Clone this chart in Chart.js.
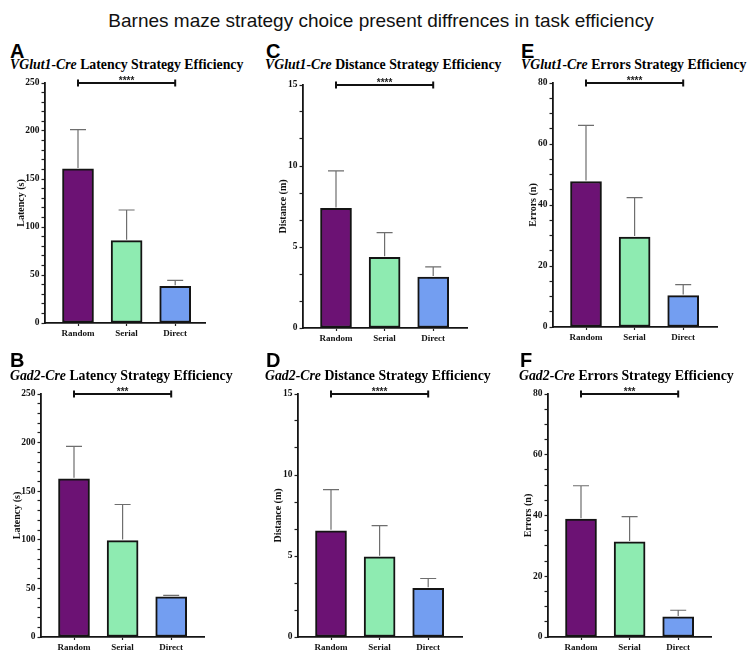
<!DOCTYPE html>
<html>
<head>
<meta charset="utf-8">
<script src="https://cdn.jsdelivr.net/npm/chart.js@4.4.1/dist/chart.umd.min.js"></script>
<style>
  html, body { margin: 0; padding: 0; background: #fff; }
  #wrap { position: relative; width: 750px; height: 653px; background: #fff; overflow: hidden; }
  .main { position: absolute; left: 0; width: 762px; text-align: center; font-family: "Liberation Sans", Arial, sans-serif; font-size: 19px; line-height: 19px; color: #111; white-space: nowrap; }
  .letter { position: absolute; font-family: "Liberation Sans", Arial, sans-serif; font-weight: bold; font-size: 20px; line-height: 20px; color: #000; }
  .ptitle { position: absolute; font-family: "Liberation Serif", "Times New Roman", serif; font-weight: bold; font-size: 13.8px; line-height: 14px; color: #000; white-space: nowrap; }
  .ptitle i { font-style: italic; }
  .pc { position: absolute; }
</style>
</head>
<body>
<div id="wrap">
  <div class="main" style="top:11px;">Barnes maze strategy choice present diffrences in task efficiency</div>
</div>
<script>
// ---------- data ----------
const categories = ['Random', 'Serial', 'Direct'];
const barColors = ['#6c1274', '#8eebb1', '#739ef1'];

const latencyVGlut1Mean = [160.5, 85.8, 38.2];
const latencyVGlut1Err  = [40.9, 31.9, 6.2];
const distanceVGlut1Mean = [7.38, 4.37, 3.15];
const distanceVGlut1Err  = [2.32, 1.52, 0.62];
const errorsVGlut1Mean = [47.7, 29.5, 10.3];
const errorsVGlut1Err  = [18.4, 12.9, 3.6];

const latencyGad2Mean = [162.8, 99.2, 41.2];
const latencyGad2Err  = [33.3, 37.1, 1.7];
const distanceGad2Mean = [6.56, 4.95, 3.01];
const distanceGad2Err  = [2.54, 1.92, 0.60];
const errorsGad2Mean = [38.8, 31.3, 6.6];
const errorsGad2Err  = [11.0, 8.3, 2.2];

const latencyTickLabels  = [0, 50, 100, 150, 200, 250];
const distanceTickLabels = [0, 5, 10, 15];
const errorsTickLabels   = [0, 20, 40, 60, 80];

const sigVGlut1 = ['****', '****', '****'];   // latency, distance, errors
const sigGad2   = ['***', '****', '***'];

// ---------- panels (layout) ----------
const panels = [
  { letter: 'A', strain: 'VGlut1-Cre', measure: 'Latency',  yTitle: 'Latency (s)',  mean: latencyVGlut1Mean,  err: latencyVGlut1Err,  ticks: latencyTickLabels,  minorDiv: 5, sig: sigVGlut1[0],
    axisX: 45,  top: 83,  bottom: 323, right: 205, W: 30,   letterX: 10,  letterTop: 41,  titleX: 10,  titleTop: 58 },
  { letter: 'C', strain: 'VGlut1-Cre', measure: 'Distance', yTitle: 'Distance (m)', mean: distanceVGlut1Mean, err: distanceVGlut1Err, ticks: distanceTickLabels, minorDiv: 3, sig: sigVGlut1[1],
    axisX: 303, top: 85,  bottom: 328, right: 467, W: 25.5, letterX: 266, letterTop: 41,  titleX: 265, titleTop: 58 },
  { letter: 'E', strain: 'VGlut1-Cre', measure: 'Errors',   yTitle: 'Errors (n)',   mean: errorsVGlut1Mean,   err: errorsVGlut1Err,   ticks: errorsTickLabels,   minorDiv: 4, sig: sigVGlut1[2],
    axisX: 553, top: 83,  bottom: 327, right: 717, W: 25.5, letterX: 521, letterTop: 41,  titleX: 521, titleTop: 58 },
  { letter: 'B', strain: 'Gad2-Cre',   measure: 'Latency',  yTitle: 'Latency (s)',  mean: latencyGad2Mean,    err: latencyGad2Err,    ticks: latencyTickLabels,  minorDiv: 5, sig: sigGad2[0],
    axisX: 41,  top: 394, bottom: 637, right: 204, W: 30,   letterX: 10,  letterTop: 350, titleX: 10,  titleTop: 369 },
  { letter: 'D', strain: 'Gad2-Cre',   measure: 'Distance', yTitle: 'Distance (m)', mean: distanceGad2Mean,   err: distanceGad2Err,   ticks: distanceTickLabels, minorDiv: 3, sig: sigGad2[1],
    axisX: 298, top: 394, bottom: 637, right: 462, W: 25.5, letterX: 266, letterTop: 350, titleX: 265, titleTop: 369 },
  { letter: 'F', strain: 'Gad2-Cre',   measure: 'Errors',   yTitle: 'Errors (n)',   mean: errorsGad2Mean,     err: errorsGad2Err,     ticks: errorsTickLabels,   minorDiv: 4, sig: sigGad2[2],
    axisX: 548, top: 394, bottom: 637, right: 711, W: 25.5, letterX: 520, letterTop: 350, titleX: 519, titleTop: 369 }
];

const serifBold = { family: "'Liberation Serif', 'Times New Roman', serif", weight: 'bold', size: 9 };
const serifBoldY = { family: "'Liberation Serif', 'Times New Roman', serif", weight: 'bold', size: 9.5 };
const serifBoldTitle = { family: "'Liberation Serif', 'Times New Roman', serif", weight: 'bold', size: 10 };
const BAR_SPACING = 48.6, FIRST_OFFSET = 33;

function annotationPlugin(p) {
  return {
    id: 'ann' + p.letter,
    afterDatasetsDraw(chart) {
      const ctx = chart.ctx;
      const meta = chart.getDatasetMeta(0);
      const ys = chart.scales.y;
      ctx.save();
      ctx.strokeStyle = '#6e6e6e';
      ctx.lineWidth = 1.2;
      meta.data.forEach((el, i) => {
        const top = ys.getPixelForValue(p.mean[i] + p.err[i]);
        ctx.beginPath();
        ctx.moveTo(el.x, el.y - 1);
        ctx.lineTo(el.x, top);
        ctx.moveTo(el.x - 8, top);
        ctx.lineTo(el.x + 8, top);
        ctx.stroke();
      });
      ctx.restore();
    },
    afterDraw(chart) {
      const ctx = chart.ctx;
      const meta = chart.getDatasetMeta(0);
      const ys = chart.scales.y;
      const yMax = p.ticks[p.ticks.length - 1];
      const y = ys.getPixelForValue(yMax);
      const x1 = meta.data[0].x, x2 = meta.data[2].x;
      ctx.save();
      ctx.strokeStyle = '#111';
      ctx.lineWidth = 2.2;
      ctx.beginPath();
      ctx.moveTo(x1, y); ctx.lineTo(x2, y);
      ctx.stroke();
      ctx.lineWidth = 2;
      ctx.beginPath();
      ctx.moveTo(x1, y - 3.5); ctx.lineTo(x1, y + 3.5);
      ctx.moveTo(x2, y - 3.5); ctx.lineTo(x2, y + 3.5);
      ctx.stroke();
      ctx.fillStyle = '#222';
      ctx.font = "bold 10px 'Liberation Sans', Arial, sans-serif";
      ctx.textAlign = 'center';
      ctx.textBaseline = 'alphabetic';
      ctx.fillText(p.sig, (x1 + x2) / 2, y + 1);
      ctx.restore();
    }
  };
}

const wrap = document.getElementById('wrap');

panels.forEach(p => {
  const L = document.createElement('div');
  L.className = 'letter';
  L.style.left = p.letterX + 'px'; L.style.top = p.letterTop + 'px';
  L.textContent = p.letter;
  wrap.appendChild(L);
  const T = document.createElement('div');
  T.className = 'ptitle';
  T.style.left = p.titleX + 'px'; T.style.top = p.titleTop + 'px';
  T.innerHTML = '<i>' + p.strain + '</i> ' + p.measure + ' Strategy Efficiency';
  wrap.appendChild(T);

  const padL = 45, padT = 24, padR = 14, padB = 28, xH = 20;
  const plotW = p.right - p.axisX, plotH = p.bottom - p.top;
  const cw = plotW + padL + padR, ch = plotH + padT + padB;
  const box = document.createElement('div');
  box.className = 'pc';
  box.style.left = (p.axisX - padL) + 'px';
  box.style.top = (p.top - padT) + 'px';
  const cv = document.createElement('canvas');
  cv.width = cw; cv.height = ch;
  cv.style.width = cw + 'px'; cv.style.height = ch + 'px';
  box.appendChild(cv);
  wrap.appendChild(box);

  const xMin = -FIRST_OFFSET / BAR_SPACING;
  const xMax = xMin + plotW / BAR_SPACING;
  const yMax = p.ticks[p.ticks.length - 1];
  const major = p.ticks[1] - p.ticks[0];
  const minor = major / p.minorDiv;

  new Chart(cv, {
    type: 'bar',
    data: {
      datasets: [{
        data: p.mean.map((v, i) => ({ x: i, y: v })),
        backgroundColor: barColors,
        borderColor: '#141414',
        borderWidth: 2,
        borderSkipped: false,
        barThickness: 31
      }]
    },
    options: {
      responsive: false,
      animation: false,
      devicePixelRatio: 1,
      layout: { padding: { left: padL - p.W, top: padT, right: padR, bottom: padB - xH } },
      plugins: { legend: { display: false }, tooltip: { enabled: false }, title: { display: false } },
      scales: {
        x: {
          type: 'linear', min: xMin, max: xMax, offset: false,
          afterBuildTicks: s => { s.ticks = categories.map((c, i) => ({ value: i })); },
          afterFit: s => { s.height = xH; },
          ticks: { callback: v => categories[v], font: serifBold, color: '#111', padding: 2, maxRotation: 0, autoSkip: false },
          grid: { display: true, drawOnChartArea: false, offset: false, tickLength: 3, tickColor: '#222', tickWidth: 1.2 },
          border: { display: true, color: '#141414', width: 1.8 }
        },
        y: {
          type: 'linear', min: 0, max: yMax,
          afterBuildTicks: s => {
            const arr = [];
            for (let k = 0; k <= Math.round(yMax / minor); k++) arr.push({ value: k * minor });
            s.ticks = arr;
          },
          afterFit: s => { s.width = p.W; },
          ticks: {
            autoSkip: false, font: serifBoldY, color: '#111', padding: 2,
            callback: v => {
              const r = v / major;
              return Math.abs(r - Math.round(r)) < 1e-6 ? String(Math.round(v)) : '';
            }
          },
          grid: { display: true, drawOnChartArea: false, tickLength: 3.5, tickColor: '#222', tickWidth: 1.2 },
          border: { display: true, color: '#141414', width: 1.8 },
          title: { display: true, text: p.yTitle, font: serifBoldTitle, color: '#111', padding: 0 }
        }
      }
    },
    plugins: [annotationPlugin(p)]
  });
});
</script>
</body>
</html>
